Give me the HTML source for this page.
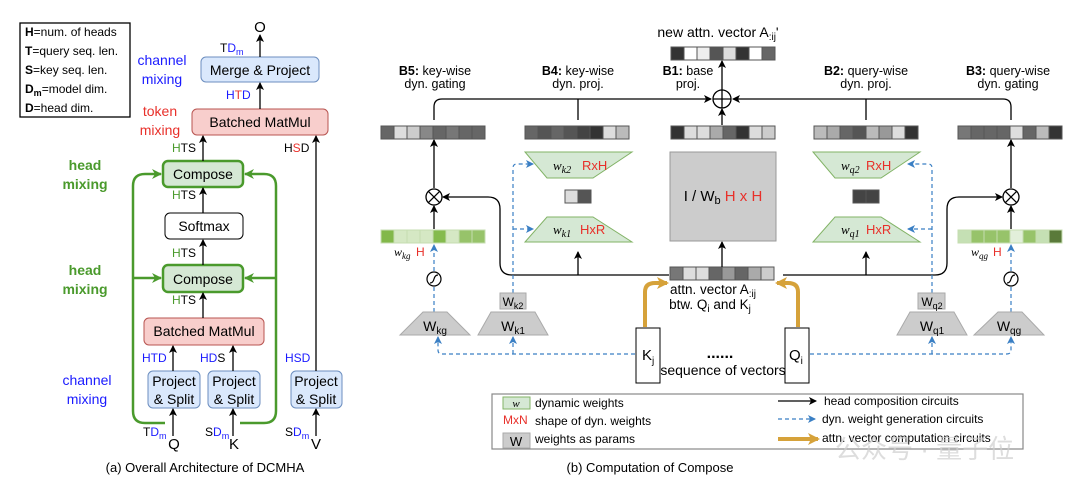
<!DOCTYPE html>
<html><head><meta charset="utf-8"><style>
html,body{margin:0;padding:0;background:#fff;}
svg{display:block;font-family:"Liberation Sans",Arial,sans-serif;}
</style></head><body>
<svg width="1080" height="491" viewBox="0 0 1080 491" xmlns="http://www.w3.org/2000/svg">
<defs>
<marker id="ab" markerWidth="8" markerHeight="8" refX="7" refY="4" orient="auto" markerUnits="userSpaceOnUse"><path d="M0,0 L8,4 L0,8 L2,4z" fill="#000"/></marker>
<marker id="ag" markerWidth="10" markerHeight="10" refX="9" refY="5" orient="auto" markerUnits="userSpaceOnUse"><path d="M0,0 L10,5 L0,10 L3,5z" fill="#4a9a2c"/></marker>
<marker id="au" markerWidth="8" markerHeight="8" refX="7" refY="4" orient="auto" markerUnits="userSpaceOnUse"><path d="M0,0 L8,4 L0,8 L2,4z" fill="#3a7fc4"/></marker>
<marker id="ao" markerWidth="12" markerHeight="12" refX="10" refY="6" orient="auto" markerUnits="userSpaceOnUse"><path d="M0,0 L12,6 L0,12 L3,6z" fill="#d6a23a"/></marker>
</defs>

<!-- ===== LEFT (a) ===== -->
<rect x="20" y="23" width="110" height="94" fill="#fff" stroke="#000" stroke-width="1.3"/>
<g font-size="12" fill="#000">
<text x="25" y="36"><tspan font-weight="bold">H</tspan>=num. of heads</text>
<text x="25" y="55"><tspan font-weight="bold">T</tspan>=query seq. len.</text>
<text x="25" y="74"><tspan font-weight="bold">S</tspan>=key seq. len.</text>
<text x="25" y="93"><tspan font-weight="bold">D</tspan><tspan font-weight="bold" font-size="9" dy="3">m</tspan><tspan dy="-3">=model dim.</tspan></text>
<text x="25" y="112"><tspan font-weight="bold">D</tspan>=head dim.</text>
</g>
<g font-size="14" text-anchor="middle">
<text x="162" y="65" fill="#1a1aff">channel</text><text x="162" y="84" fill="#1a1aff">mixing</text>
<text x="160" y="116" fill="#e8302a">token</text><text x="160" y="135" fill="#e8302a">mixing</text>
<text x="85" y="170" fill="#4a9a2c" font-weight="bold">head</text><text x="85" y="189" fill="#4a9a2c" font-weight="bold">mixing</text>
<text x="85" y="275" fill="#4a9a2c" font-weight="bold">head</text><text x="85" y="294" fill="#4a9a2c" font-weight="bold">mixing</text>
<text x="87" y="385" fill="#1a1aff">channel</text><text x="87" y="404" fill="#1a1aff">mixing</text>
</g>
<!-- green loop -->
<path d="M165,423 L145,423 Q133,423 133,411 L133,186 Q133,174 145,174 L161,174" fill="none" stroke="#4a9a2c" stroke-width="2.5" marker-end="url(#ag)"/>
<path d="M133,278 L161,278" fill="none" stroke="#4a9a2c" stroke-width="2.5" marker-end="url(#ag)"/>
<path d="M240,423 L264,423 Q276,423 276,411 L276,186 Q276,174 264,174 L245,174" fill="none" stroke="#4a9a2c" stroke-width="2.5" marker-end="url(#ag)"/>
<path d="M276,278 L245,278" fill="none" stroke="#4a9a2c" stroke-width="2.5" marker-end="url(#ag)"/>
<!-- boxes -->
<rect x="201" y="57" width="118" height="25" rx="5" fill="#dae8fc" stroke="#6c8ebf"/>
<text x="260" y="75" font-size="14" text-anchor="middle">Merge &amp; Project</text>
<rect x="192" y="109" width="136" height="26" rx="5" fill="#f8cecc" stroke="#b85450"/>
<text x="260" y="127" font-size="14" text-anchor="middle">Batched MatMul</text>
<rect x="163" y="161" width="80" height="26" rx="5" fill="#d5e8d4" stroke="#4a9a2c" stroke-width="2.5"/>
<text x="203" y="179" font-size="14" text-anchor="middle">Compose</text>
<rect x="165" y="213" width="78" height="26" rx="5" fill="#fff" stroke="#000"/>
<text x="204" y="231" font-size="14" text-anchor="middle">Softmax</text>
<rect x="163" y="265" width="80" height="27" rx="5" fill="#d5e8d4" stroke="#4a9a2c" stroke-width="2.5"/>
<text x="203" y="284" font-size="14" text-anchor="middle">Compose</text>
<rect x="144" y="318" width="120" height="27" rx="5" fill="#f8cecc" stroke="#b85450"/>
<text x="204" y="336" font-size="14" text-anchor="middle">Batched MatMul</text>
<g font-size="14" text-anchor="middle">
<rect x="148" y="371" width="52" height="37" rx="5" fill="#dae8fc" stroke="#6c8ebf"/>
<text x="174" y="386">Project</text><text x="174" y="404">&amp; Split</text>
<rect x="208" y="371" width="52" height="37" rx="5" fill="#dae8fc" stroke="#6c8ebf"/>
<text x="234" y="386">Project</text><text x="234" y="404">&amp; Split</text>
<rect x="291" y="371" width="51" height="37" rx="5" fill="#dae8fc" stroke="#6c8ebf"/>
<text x="316" y="386">Project</text><text x="316" y="404">&amp; Split</text>
</g>
<!-- arrows -->
<g stroke="#000" stroke-width="1.3" fill="none" marker-end="url(#ab)">
<path d="M260,57 L260,35"/><path d="M260,109 L260,83"/>
<path d="M203,161 L203,136"/><path d="M316,371 L316,136"/>
<path d="M203,213 L203,188"/><path d="M203,265 L203,240"/>
<path d="M203,318 L203,293"/><path d="M173,371 L173,346"/><path d="M233,371 L233,346"/>
<path d="M173,436 L173,409"/><path d="M233,436 L233,409"/><path d="M316,436 L316,409"/>
</g>
<g font-size="12">
<text x="260" y="32" font-size="15" text-anchor="middle">O</text>
<text x="220" y="52">T<tspan fill="#1a1aff">D</tspan><tspan fill="#1a1aff" font-size="9" dy="3">m</tspan></text>
<text x="226" y="99"><tspan fill="#1a1aff">H</tspan><tspan fill="#e8302a">T</tspan><tspan fill="#1a1aff">D</tspan></text>
<text x="172" y="152"><tspan fill="#4a9a2c">H</tspan>TS</text>
<text x="284" y="152">H<tspan fill="#e8302a">S</tspan>D</text>
<text x="172" y="199"><tspan fill="#4a9a2c">H</tspan>TS</text>
<text x="172" y="257"><tspan fill="#4a9a2c">H</tspan>TS</text>
<text x="172" y="304"><tspan fill="#4a9a2c">H</tspan>TS</text>
<text x="142" y="362" fill="#1a1aff">HTD</text>
<text x="200" y="362"><tspan fill="#1a1aff">HD</tspan>S</text>
<text x="285" y="362" fill="#1a1aff">HSD</text>
<text x="143" y="436">T<tspan fill="#1a1aff">D</tspan><tspan fill="#1a1aff" font-size="9" dy="3">m</tspan></text>
<text x="205" y="436">S<tspan fill="#1a1aff">D</tspan><tspan fill="#1a1aff" font-size="9" dy="3">m</tspan></text>
<text x="285" y="436">S<tspan fill="#1a1aff">D</tspan><tspan fill="#1a1aff" font-size="9" dy="3">m</tspan></text>
</g>
<g font-size="15" text-anchor="middle"><text x="174" y="449">Q</text><text x="234" y="449">K</text><text x="316" y="449">V</text></g>
<text x="205" y="472" font-size="13" text-anchor="middle">(a) Overall Architecture of DCMHA</text>

<!-- ===== RIGHT (b) ===== -->
<text x="718" y="37" font-size="14" text-anchor="middle">new attn. vector A<tspan font-size="10" dy="3">:ij</tspan><tspan dy="-3">'</tspan></text>
<g stroke="#555" stroke-width="1">
<!-- top vector -->
<g transform="translate(671,47)">
<rect x="0" width="13" height="13" fill="#333"/><rect x="13" width="13" height="13" fill="#fff"/><rect x="26" width="13" height="13" fill="#eee"/><rect x="39" width="13" height="13" fill="#555"/><rect x="52" width="13" height="13" fill="#ddd"/><rect x="65" width="13" height="13" fill="#333"/><rect x="78" width="13" height="13" fill="#fff"/><rect x="91" width="13" height="13" fill="#666"/></g>
<g transform="translate(381,126)">
<rect x="0" width="13" height="13" fill="#666"/><rect x="13" width="13" height="13" fill="#ddd"/><rect x="26" width="13" height="13" fill="#ccc"/><rect x="39" width="13" height="13" fill="#888"/><rect x="52" width="13" height="13" fill="#666"/><rect x="65" width="13" height="13" fill="#777"/><rect x="78" width="13" height="13" fill="#666"/><rect x="91" width="13" height="13" fill="#666"/></g>
<g transform="translate(525,126)">
<rect x="0" width="13" height="13" fill="#666"/><rect x="13" width="13" height="13" fill="#555"/><rect x="26" width="13" height="13" fill="#666"/><rect x="39" width="13" height="13" fill="#555"/><rect x="52" width="13" height="13" fill="#444"/><rect x="65" width="13" height="13" fill="#333"/><rect x="78" width="13" height="13" fill="#ddd"/><rect x="91" width="13" height="13" fill="#bbb"/></g>
<g transform="translate(671,126)">
<rect x="0" width="13" height="13" fill="#333"/><rect x="13" width="13" height="13" fill="#ddd"/><rect x="26" width="13" height="13" fill="#ddd"/><rect x="39" width="13" height="13" fill="#aaa"/><rect x="52" width="13" height="13" fill="#666"/><rect x="65" width="13" height="13" fill="#333"/><rect x="78" width="13" height="13" fill="#ddd"/><rect x="91" width="13" height="13" fill="#ccc"/></g>
<g transform="translate(814,126)">
<rect x="0" width="13" height="13" fill="#bbb"/><rect x="13" width="13" height="13" fill="#aaa"/><rect x="26" width="13" height="13" fill="#666"/><rect x="39" width="13" height="13" fill="#555"/><rect x="52" width="13" height="13" fill="#bbb"/><rect x="65" width="13" height="13" fill="#999"/><rect x="78" width="13" height="13" fill="#ddd"/><rect x="91" width="13" height="13" fill="#333"/></g>
<g transform="translate(958,126)">
<rect x="0" width="13" height="13" fill="#777"/><rect x="13" width="13" height="13" fill="#666"/><rect x="26" width="13" height="13" fill="#666"/><rect x="39" width="13" height="13" fill="#666"/><rect x="52" width="13" height="13" fill="#ddd"/><rect x="65" width="13" height="13" fill="#666"/><rect x="78" width="13" height="13" fill="#bbb"/><rect x="91" width="13" height="13" fill="#333"/></g>
<g transform="translate(670,267)">
<rect x="0" width="13" height="13" fill="#777"/><rect x="13" width="13" height="13" fill="#ddd"/><rect x="26" width="13" height="13" fill="#ddd"/><rect x="39" width="13" height="13" fill="#666"/><rect x="52" width="13" height="13" fill="#999"/><rect x="65" width="13" height="13" fill="#666"/><rect x="78" width="13" height="13" fill="#aaa"/><rect x="91" width="13" height="13" fill="#ccc"/></g>
<rect x="565" y="190" width="13" height="13" fill="#ddd"/><rect x="578" y="190" width="13" height="13" fill="#555"/>
<rect x="853" y="190" width="13" height="13" fill="#444"/><rect x="866" y="190" width="13" height="13" fill="#444"/>
</g>
<g stroke="#c5ddb0" stroke-width="1">
<g transform="translate(381,230)">
<rect x="0" width="13" height="13" fill="#82b84a"/><rect x="13" width="13" height="13" fill="#d5e8c4"/><rect x="26" width="13" height="13" fill="#d5e8c4"/><rect x="39" width="13" height="13" fill="#d5e8c4"/><rect x="52" width="13" height="13" fill="#85bb4e"/><rect x="65" width="13" height="13" fill="#d5e8c4"/><rect x="78" width="13" height="13" fill="#97c36a"/><rect x="91" width="13" height="13" fill="#97c36a"/></g>
<g transform="translate(958,230)">
<rect x="0" width="13" height="13" fill="#c5e0b4"/><rect x="13" width="13" height="13" fill="#97c36a"/><rect x="26" width="13" height="13" fill="#97c36a"/><rect x="39" width="13" height="13" fill="#97c36a"/><rect x="52" width="13" height="13" fill="#e2efda"/><rect x="65" width="13" height="13" fill="#97c36a"/><rect x="78" width="13" height="13" fill="#c5e0b4"/><rect x="91" width="13" height="13" fill="#5a7a3a"/></g>
</g>
<!-- labels B -->
<g font-size="12.5" text-anchor="middle">
<text x="435" y="75"><tspan font-weight="bold">B5:</tspan> key-wise</text><text x="435" y="88">dyn. gating</text>
<text x="578" y="75"><tspan font-weight="bold">B4:</tspan> key-wise</text><text x="578" y="88">dyn. proj.</text>
<text x="688" y="75"><tspan font-weight="bold">B1:</tspan> base</text><text x="688" y="88">proj.</text>
<text x="866" y="75"><tspan font-weight="bold">B2:</tspan> query-wise</text><text x="866" y="88">dyn. proj.</text>
<text x="1008" y="75"><tspan font-weight="bold">B3:</tspan> query-wise</text><text x="1008" y="88">dyn. gating</text>
</g>
<!-- plus -->
<circle cx="722" cy="99" r="9" fill="#fff" stroke="#000" stroke-width="1.3"/>
<path d="M713,99 H731 M722,90 V108" stroke="#000" stroke-width="1.3"/>
<g stroke="#000" stroke-width="1.3" fill="none">
<path d="M434,120 L434,107 Q434,99 442,99 L711,99" marker-end="url(#ab)"/>
<path d="M578,120 L578,99"/><path d="M866,120 L866,99"/>
<path d="M1011,120 L1011,107 Q1011,99 1003,99 L733,99" marker-end="url(#ab)"/>
<path d="M722,90 L722,61" marker-end="url(#ab)"/>
<path d="M722,125 L722,109" marker-end="url(#ab)"/>
<path d="M434,188 L434,140" marker-end="url(#ab)"/>
<path d="M434,229 L434,206" marker-end="url(#ab)"/>
<path d="M1011,188 L1011,140" marker-end="url(#ab)"/>
<path d="M1011,229 L1011,206" marker-end="url(#ab)"/>
<path d="M669,275 L512,275 Q500,275 500,263 L500,209 Q500,197 488,197 L443,197" marker-end="url(#ab)"/>
<path d="M578,275 L578,252" marker-end="url(#ab)"/>
<path d="M783,275 L935,275 Q947,275 947,263 L947,209 Q947,197 959,197 L1002,197" marker-end="url(#ab)"/>
<path d="M866,275 L866,252" marker-end="url(#ab)"/>
<path d="M722,267 L722,242" marker-end="url(#ab)"/>
</g>
<!-- otimes -->
<g stroke="#000" stroke-width="1.3" fill="#fff">
<circle cx="434" cy="197" r="8"/><path d="M428.3,191.3 L439.7,202.7 M439.7,191.3 L428.3,202.7"/>
<circle cx="1011" cy="197" r="8"/><path d="M1005.3,191.3 L1016.7,202.7 M1016.7,191.3 L1005.3,202.7"/>
</g>
<!-- trapezoids -->
<g fill="#d5e8d4" stroke="#82b366">
<path d="M525,152 L632,152 L593,178 L547,178z"/>
<path d="M547,217 L593,217 L632,242 L525,242z"/>
<path d="M813,152 L920,152 L881,178 L835,178z"/>
<path d="M835,217 L881,217 L920,242 L813,242z"/>
</g>
<g font-size="13">
<text x="553" y="170" font-family="Liberation Serif,serif" font-style="italic">w<tspan font-size="10" dy="3">k2</tspan></text><text x="582" y="170" fill="#e8302a">RxH</text>
<text x="553" y="234" font-family="Liberation Serif,serif" font-style="italic">w<tspan font-size="10" dy="3">k1</tspan></text><text x="580" y="234" fill="#e8302a">HxR</text>
<text x="841" y="170" font-family="Liberation Serif,serif" font-style="italic">w<tspan font-size="10" dy="3">q2</tspan></text><text x="866" y="170" fill="#e8302a">RxH</text>
<text x="841" y="234" font-family="Liberation Serif,serif" font-style="italic">w<tspan font-size="10" dy="3">q1</tspan></text><text x="866" y="234" fill="#e8302a">HxR</text>
</g>
<rect x="670" y="152" width="106" height="89" fill="#ccc" stroke="#999"/>
<text x="723" y="201" font-size="15" text-anchor="middle">I / W<tspan font-size="11" dy="3">b</tspan><tspan dy="-3" fill="#e8302a"> H x H</tspan></text>
<!-- small labels -->
<g font-size="12">
<text x="394" y="256" font-family="Liberation Serif,serif" font-style="italic">w<tspan font-size="9" dy="3">kg</tspan></text><text x="416" y="256" fill="#e8302a">H</text>
<text x="971" y="256" font-family="Liberation Serif,serif" font-style="italic">w<tspan font-size="9" dy="3">qg</tspan></text><text x="993" y="256" fill="#e8302a">H</text>
</g>
<!-- sigmoids -->
<g stroke="#000" stroke-width="1.2" fill="#fff">
<circle cx="434" cy="279" r="7"/><path d="M430,283 Q433,283 434,279 Q435,275 438,275" fill="none"/>
<circle cx="1011" cy="279" r="7"/><path d="M1007,283 Q1010,283 1011,279 Q1012,275 1015,275" fill="none"/>
</g>
<!-- dashed blue -->
<g stroke="#3a7fc4" stroke-width="1.2" stroke-dasharray="4,3" fill="none">
<path d="M434,312 L434,287"/><path d="M434,271 L434,245" marker-end="url(#au)"/>
<path d="M513,293 L513,168 Q513,164 517,164 L533,164" marker-end="url(#au)"/>
<path d="M513,229 L533,229" marker-end="url(#au)"/>
<path d="M635,354 L442,354 Q438,354 438,350 L438,337" marker-end="url(#au)"/>
<path d="M513,354 L513,337" marker-end="url(#au)"/>
<path d="M810,354 L1007,354 Q1011,354 1011,350 L1011,337" marker-end="url(#au)"/>
<path d="M932,354 L932,337" marker-end="url(#au)"/>
<path d="M932,293 L932,168 Q932,164 928,164 L908,164" marker-end="url(#au)"/>
<path d="M932,229 L908,229" marker-end="url(#au)"/>
<path d="M1011,312 L1011,287"/><path d="M1011,271 L1011,245" marker-end="url(#au)"/>
</g>
<!-- param trapezoids -->
<g fill="#ccc" stroke="#aaa">
<path d="M423,312 L447,312 L470,335 L400,335z"/>
<path d="M491,312 L535,312 L548,335 L478,335z"/>
<rect x="500" y="293" width="26" height="16"/>
<path d="M910,312 L954,312 L967,335 L897,335z"/>
<rect x="918" y="293" width="27" height="16"/>
<path d="M998,312 L1022,312 L1044,335 L974,335z"/>
</g>
<g font-size="14" text-anchor="middle">
<text x="435" y="331">W<tspan font-size="10" dy="3">kg</tspan></text>
<text x="513" y="331">W<tspan font-size="10" dy="3">k1</tspan></text>
<text x="513" y="306" font-size="12">W<tspan font-size="9" dy="3">k2</tspan></text>
<text x="932" y="331">W<tspan font-size="10" dy="3">q1</tspan></text>
<text x="932" y="306" font-size="12">W<tspan font-size="9" dy="3">q2</tspan></text>
<text x="1009" y="331">W<tspan font-size="10" dy="3">qg</tspan></text>
</g>
<!-- orange -->
<g stroke="#d6a23a" stroke-width="4" fill="none">
<path d="M645,327 L645,292 Q645,283 655,283 L667,283" marker-end="url(#ao)"/>
<path d="M798,327 L798,292 Q798,283 788,283 L777,283" marker-end="url(#ao)"/>
</g>
<g font-size="13.5" text-anchor="middle">
<text x="713" y="294">attn. vector A<tspan font-size="10" dy="3">:ij</tspan></text>
<text x="710" y="309">btw. Q<tspan font-size="10" dy="3">i</tspan><tspan dy="-3"> and K</tspan><tspan font-size="10" dy="3">j</tspan></text>
</g>
<rect x="636" y="328" width="24" height="55" fill="#fff" stroke="#000"/>
<rect x="785" y="328" width="24" height="55" fill="#fff" stroke="#000"/>
<text x="642" y="360" font-size="15">K<tspan font-size="10" dy="4">j</tspan></text>
<text x="789" y="360" font-size="15">Q<tspan font-size="10" dy="4">i</tspan></text>
<text x="720" y="358" font-size="16" font-weight="bold" text-anchor="middle">......</text>
<text x="723" y="375" font-size="14" text-anchor="middle">sequence of vectors</text>
<!-- legend -->
<rect x="492" y="394" width="531" height="55" fill="none" stroke="#888" stroke-width="1.2"/>
<rect x="503" y="397" width="27" height="12" fill="#d5e8d4" stroke="#82b366"/>
<text x="516" y="407" font-size="11" font-style="italic" font-family="Liberation Serif,serif" text-anchor="middle">w</text>
<text x="503" y="424" font-size="12" fill="#e8302a">MxN</text>
<rect x="503" y="433" width="27" height="15" fill="#ccc" stroke="#aaa"/>
<text x="516" y="446" font-size="13" text-anchor="middle">W</text>
<g font-size="12">
<text x="535" y="407">dynamic weights</text>
<text x="535" y="425">shape of dyn. weights</text>
<text x="535" y="443">weights as params</text>
<text x="824" y="405">head composition circuits</text>
<text x="822" y="423">dyn. weight generation circuits</text>
<text x="822" y="442">attn. vector computation circuits</text>
</g>
<path d="M778,401 L816,401" stroke="#000" stroke-width="1.2" marker-end="url(#ab)"/>
<path d="M778,419 L815,419" stroke="#3a7fc4" stroke-width="1.2" stroke-dasharray="4,3" marker-end="url(#au)"/>
<path d="M778,439 L818,439" stroke="#d6a23a" stroke-width="4" marker-end="url(#ao)"/>
<text x="650" y="472" font-size="13" text-anchor="middle">(b) Computation of Compose</text>
<text x="835" y="458" font-size="26" fill="#cfcfcf" fill-opacity="0.7" font-family="'Liberation Sans','Noto Sans CJK SC',sans-serif">公众号 · 量子位</text>
</svg>
</body></html>
